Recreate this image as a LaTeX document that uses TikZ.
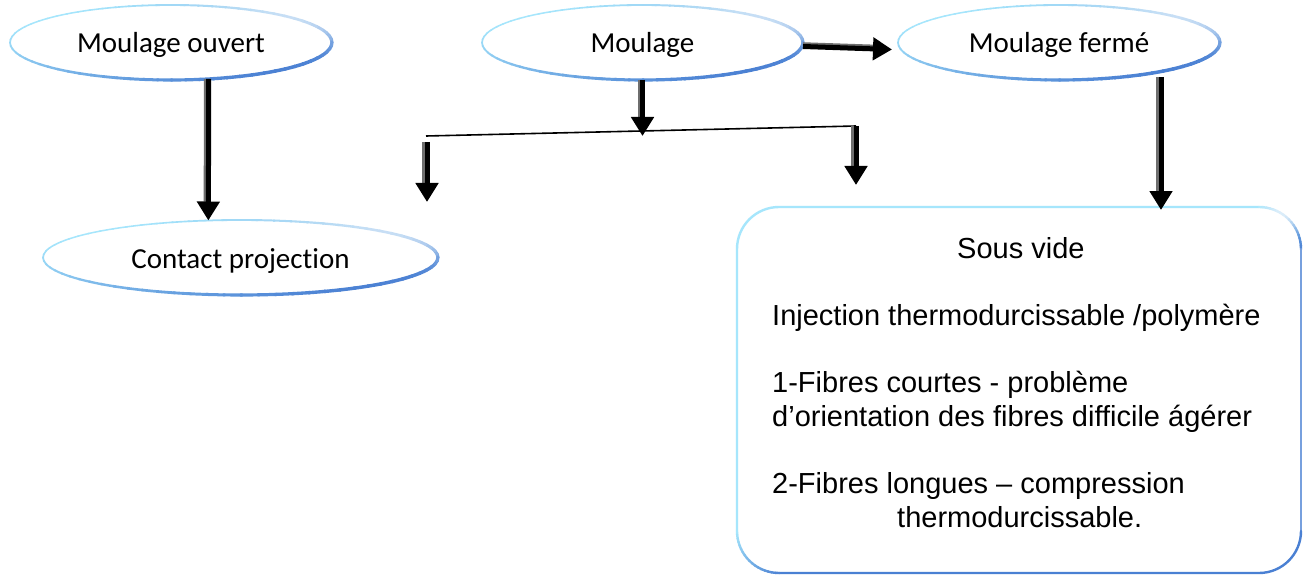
\documentclass[tikz,border=0pt]{standalone}
\usepackage{fontspec}
\setmainfont[Ligatures=NoCommon]{Liberation Sans}
\newfontfamily\bubblefont[Ligatures=NoCommon]{Carlito}
\usetikzlibrary{arrows.meta,calc,shapes.geometric}

\definecolor{edgecyan}{HTML}{A6E6FC}
\definecolor{edgeblue}{HTML}{4A80D3}
\definecolor{shadowgray}{HTML}{6E6E6E}

\tikzset{
  bubble/.style={ellipse, draw=none, inner sep=0pt, outer sep=0pt,
    minimum height=75pt, font=\bubblefont\fontsize{29}{34}\selectfont,
    text height=21pt, text depth=0pt},
  panel/.style={rectangle, draw=none, inner sep=0pt, outer sep=0pt},
  boxline/.style={font=\fontsize{29}{34}\selectfont, anchor=base west, inner sep=0pt},
  % thick arrow with a grey shadow beside its shaft
  bigarrow/.style={line width=5pt, black, -{Triangle[width=22pt,length=19pt]},
    preaction={draw=shadowgray, line width=3.5pt, -, shorten >=19pt,
      transform canvas={shift={#1}}}},
  bigarrow/.default={(-3pt,0pt)},
  bar/.style={line width=1.6pt, black},
  boxedge/.style={line width=2.4pt, line cap=round},
}

% shaded outline of an ellipse node: light cyan on the upper left, blue on the lower right
\newcommand\glowellipse[3]{%
  \foreach \a in {0,5,...,355}{%
    \pgfmathtruncatemacro\bluepart{50-50*cos(\a+2.5-140)}%
    \pgfmathtruncatemacro\keep{100-60*pow(max(0,cos(\a+2.5-40)),4)}%
    \pgfmathsetmacro\ringlw{1.5+2.0*\bluepart/100}%
    \draw[line width=\ringlw pt, line cap=round,
          draw=edgeblue!\bluepart!edgecyan!\keep!white]
      ($(#1.center)+(\a:#2pt and #3pt)$)
      arc[start angle=\a, delta angle=5.5, x radius=#2pt, y radius=#3pt];
  }%
}

\begin{document}
\begin{tikzpicture}[x=1pt,y=1pt]
\useasboundingbox (0,0) rectangle (1308,574);
\fill[white] (0,0) rectangle (1308,574);

% ---- nodes ----
\node[bubble, minimum width=322pt] (mo) at (171,531.5) {Moulage ouvert};
\node[bubble, minimum width=321pt] (mm) at (642.5,531.5) {Moulage};
\node[bubble, minimum width=322pt] (mf) at (1059,531.5) {Moulage fermé};
\node[bubble, minimum width=395pt] (cp) at (240.5,316.5) {Contact projection};
\node[panel, minimum width=564pt, minimum height=366pt] (box) at (1019,184) {};

\glowellipse{mo}{161}{37.5}
\glowellipse{mm}{160.5}{37.5}
\glowellipse{mf}{161}{37.5}
\glowellipse{cp}{197.5}{37.5}

% ---- rounded panel outline ----
\def\rr{42}
\draw[boxedge, edgecyan]
  ($(box.south west)+(0,\rr)$) -- ($(box.north west)+(0,-\rr)$)
  arc[start angle=180, end angle=90, radius=\rr pt]
  -- ($(box.north east)+(-\rr,0)$);
\foreach \a in {90,85,...,5}{%
  \pgfmathtruncatemacro\bluepart{(90-\a)/90*100}%
  \pgfmathtruncatemacro\keep{100-70*pow(max(0,cos((\a-2.5-55)*2)),2)}%
  \draw[boxedge, draw=edgeblue!\bluepart!edgecyan!\keep!white]
    ($(box.north east)+(-\rr,-\rr)+(\a:\rr pt)$)
    arc[start angle=\a, delta angle=-5.5, radius=\rr pt];
}
\draw[boxedge, draw=edgeblue!75!white]
  ($(box.north east)+(0,-\rr)$) -- ($(box.south east)+(0,\rr)$);
\draw[boxedge, edgeblue]
  ($(box.south east)+(0,\rr)$)
  arc[start angle=0, end angle=-90, radius=\rr pt]
  -- ($(box.south west)+(\rr,0)$);
\foreach \a in {180,185,...,265}{%
  \pgfmathtruncatemacro\bluepart{(\a-180)/90*100}%
  \draw[boxedge, draw=edgeblue!\bluepart!edgecyan]
    ($(box.south west)+(\rr,\rr)+(\a:\rr pt)$)
    arc[start angle=\a, delta angle=5.5, radius=\rr pt];
}

% ---- panel text ----
\node[boxline] (t1) at (957,316) {Sous vide};
\node[boxline] (t2) at (772,249) {Injection thermodurcissable /polymère};
\node[boxline] (t3) at (772,182) {1-Fibres courtes - problème};
\node[boxline] (t4) at (772,148) {d’orientation des fibres difficile ágérer};
\node[boxline] (t5) at (772,81) {2-Fibres longues – compression};
\node[boxline] (t6) at (897,47) {thermodurcissable.};

% ---- connectors ----
\draw[bigarrow] (mo.-44.6) -- (cp.131.7);

\coordinate (hub) at (641,438);
\coordinate (bl) at (426,438);
\coordinate (br) at (856,448);
\draw[bar] (bl) -- (br);
\draw[bigarrow] (mm.south) -- (mm.south |- hub);
\draw[bigarrow] ($(bl)+(1,-6)$) -- ++(0,-60);
\draw[bigarrow] (br) -- ++(0,-59);

\draw[bigarrow={(0pt,2.5pt)}] ([yshift=-4pt]mm.east) -- ([shift={(-6pt,-7pt)}]mf.west);

\coordinate (fs) at ($(mf.center)+(102,-34.5)$);
\draw[bigarrow] (fs) -- ($(box.north -| fs)+(0,-3)$);
\end{tikzpicture}
\end{document}
